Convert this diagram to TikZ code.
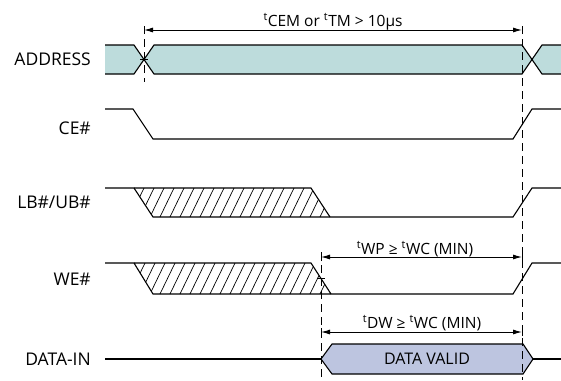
\documentclass[tikz,border=0pt]{standalone}
\usepackage{fontspec}
\setmainfont{Open Sans}
\usetikzlibrary{arrows.meta}
\definecolor{addrfill}{RGB}{189,220,220}
\definecolor{datafill}{RGB}{189,197,224}
\tikzset{
  sig/.style={line width=1.1pt, line join=miter},
  guide/.style={line width=1pt, dash pattern=on 8pt off 5pt},
  dim/.style={line width=1pt, {Latex[length=9pt,width=5pt]}-{Latex[length=9pt,width=5pt]}},
  tick/.style={line width=1pt},
  signame/.style={anchor=base east, inner sep=0pt, font=\fontsize{17.5}{20}\selectfont},
  timelabel/.style={anchor=base, inner sep=0pt, font=\fontsize{15.5}{18}\selectfont},
  hatch/.style={line width=0.7pt}
}
\begin{document}
\begin{tikzpicture}[x=1pt,y=-1pt]
\useasboundingbox (0,0) rectangle (561,380);
% labels
\node[signame] (lAddr) at (91,65) {ADDRESS};
\node[signame] (lCE) at (91,134) {CE\#};
\node[signame] (lLB) at (91,208) {LB\#/UB\#};
\node[signame] (lWE) at (91,285) {WE\#};
\node[signame] (lDI) at (91,365) {DATA-IN};
% ADDRESS bus
\fill[addrfill] (105,45) -- (134,45) -- (144,59.5) -- (134,74) -- (105,74) -- cycle;
\draw[sig] (105,45) -- (134,45) -- (144,59.5) -- (134,74) -- (105,74);
\filldraw[sig, fill=addrfill] (144,59.5) -- (154,45) -- (522,45) -- (532,59.5) -- (522,74) -- (154,74) -- cycle;
\fill[addrfill] (561,45) -- (542,45) -- (532,59.5) -- (542,74) -- (561,74) -- cycle;
\draw[sig] (561,45) -- (542,45) -- (532,59.5) -- (542,74) -- (561,74);
\draw[tick] (140,59.5) -- (148,59.5);
% CE#
\draw[sig] (105,109) -- (133,109) -- (153,139) -- (513,139) -- (532,109) -- (561,109);
% LB#/UB#
\begin{scope}
\clip (134,188) -- (311,188) -- (330,217) -- (153,217) -- cycle;
\foreach \i in {0,...,22} {\draw[hatch] (120+\i*10,217) -- (134+\i*10,188);}
\end{scope}
\draw[sig] (105,188) -- (134,188) -- (153,217) -- (513,217) -- (532,188) -- (561,188);
\draw[sig] (134,188) -- (311,188) -- (330,217);
% WE#
\begin{scope}
\clip (134,263) -- (311,263) -- (331,294) -- (153,294) -- cycle;
\foreach \i in {0,...,22} {\draw[hatch] (120+\i*10,294) -- (135+\i*10,263);}
\end{scope}
\draw[sig] (105,263) -- (134,263) -- (153,294) -- (513,294) -- (532,263) -- (561,263);
\draw[sig] (134,263) -- (311,263) -- (331,294);
\draw[tick] (317,278) -- (325,278);
% DATA-IN
\draw[sig] (105,359) -- (321,359);
\filldraw[sig, fill=datafill] (321,359) -- (332,344) -- (523,344) -- (533,359) -- (523,374) -- (332,374) -- cycle;
\draw[sig] (533,359) -- (561,359);
\node[anchor=base, inner sep=0pt, font=\fontsize{16}{18}\selectfont] (dv) at (427,364.5) {DATA VALID};
% guides
\coordinate (gA1) at (144,26);
\coordinate (gA2) at (144,82);
\coordinate (gB1) at (522,26);
\coordinate (gB2) at (522,380);
\coordinate (gC1) at (321,252);
\coordinate (gC2) at (321,380);
\draw[guide] (gA1) -- (gA2);
\draw[guide] (gB1) -- (gB2);
\draw[guide] (gC1) -- (gC2);
% dimensions
\coordinate (d1a) at (144,30);
\coordinate (d1b) at (522,30);
\coordinate (d2a) at (321,257);
\coordinate (d2b) at (522,257);
\coordinate (d3a) at (321,332);
\coordinate (d3b) at (522,332);
\draw[dim] (d1a) -- (d1b);
\draw[dim] (d2a) -- (d2b);
\draw[dim] (d3a) -- (d3b);
\foreach \c in {d1a,d1b,d2a,d2b,d3a,d3b} {\draw[tick] ([yshift=-4pt]\c) -- ([yshift=4pt]\c);}
\node[timelabel] (t1) at (333,26) {\textsuperscript{t}CEM or \textsuperscript{t}TM > 10µs};
\node[timelabel] (t2) at (415,254) {\textsuperscript{t}WP ≥ \textsuperscript{t}WC (MIN)};
\node[timelabel] (t3) at (422,328) {\textsuperscript{t}DW ≥ \textsuperscript{t}WC (MIN)};
\end{tikzpicture}
\end{document}
